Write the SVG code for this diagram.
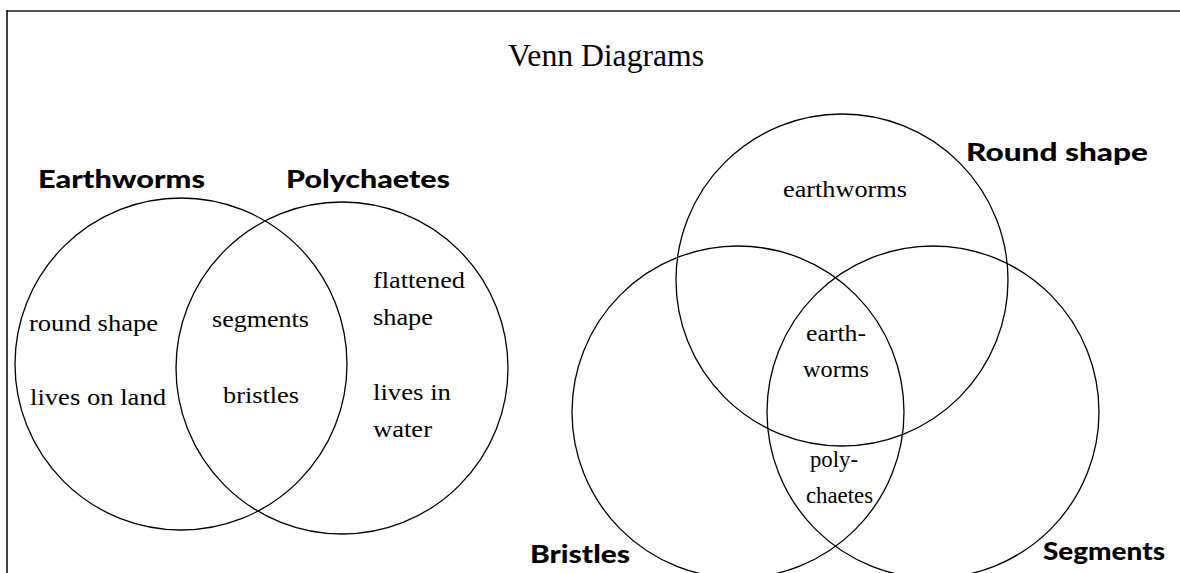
<svg xmlns="http://www.w3.org/2000/svg" width="1180" height="573" viewBox="0 0 1180 573">
<style>
.c{fill:none;stroke:#000;stroke-width:1.3}
.s{font-family:"Liberation Serif","Times New Roman",serif;font-size:24px;fill:#000}
.b{font-family:Lato,"DejaVu Sans",sans-serif;font-weight:900;font-size:25px;fill:#000}
</style>
<rect width="1180" height="573" fill="#fff"/>
<g id="frame">
<line x1="7" y1="11" x2="1180" y2="11" stroke="#555" stroke-width="2"/>
<line x1="7" y1="10" x2="7" y2="573" stroke="#000" stroke-width="1.5"/>
</g>
<text id="title" x="508" y="66" class="s" style="font-size:32px" textLength="196" lengthAdjust="spacingAndGlyphs">Venn Diagrams</text>
<g id="connectors"></g>
<g id="earthworms-set">
<circle class="c" cx="181" cy="364" r="166"/>
<text class="b" x="38" y="188" textLength="167" lengthAdjust="spacingAndGlyphs">Earthworms</text>
<text class="s" x="29" y="331" textLength="129" lengthAdjust="spacingAndGlyphs">round shape</text>
<text class="s" x="30" y="405" textLength="136" lengthAdjust="spacingAndGlyphs">lives on land</text>
</g>
<g id="polychaetes-set">
<circle class="c" cx="342" cy="368" r="166"/>
<text class="b" x="286" y="188" textLength="164" lengthAdjust="spacingAndGlyphs">Polychaetes</text>
<text class="s" x="373" y="288" textLength="92" lengthAdjust="spacingAndGlyphs">flattened</text>
<text class="s" x="373" y="325" textLength="60" lengthAdjust="spacingAndGlyphs">shape</text>
<text class="s" x="373" y="400" textLength="78" lengthAdjust="spacingAndGlyphs">lives in</text>
<text class="s" x="373" y="437" textLength="59" lengthAdjust="spacingAndGlyphs">water</text>
</g>
<g id="shared-left">
<text class="s" x="212" y="327" textLength="97" lengthAdjust="spacingAndGlyphs">segments</text>
<text class="s" x="223" y="403" textLength="76" lengthAdjust="spacingAndGlyphs">bristles</text>
</g>
<g id="round-shape-set">
<circle class="c" cx="842" cy="280" r="166"/>
<text class="b" x="966" y="161" textLength="182" lengthAdjust="spacingAndGlyphs">Round shape</text>
<text class="s" x="783" y="197" textLength="124" lengthAdjust="spacingAndGlyphs">earthworms</text>
</g>
<g id="bristles-set">
<circle class="c" cx="738" cy="412" r="166"/>
<text class="b" x="530" y="563" textLength="100" lengthAdjust="spacingAndGlyphs">Bristles</text>
</g>
<g id="segments-set">
<circle class="c" cx="933" cy="412" r="166"/>
<text class="b" x="1043" y="560" textLength="122" lengthAdjust="spacingAndGlyphs">Segments</text>
</g>
<g id="center-region">
<text class="s" x="806" y="341" textLength="60" lengthAdjust="spacingAndGlyphs">earth-</text>
<text class="s" x="803" y="377" textLength="66" lengthAdjust="spacingAndGlyphs">worms</text>
<text class="s" x="810" y="467" textLength="48" lengthAdjust="spacingAndGlyphs">poly-</text>
<text class="s" x="806" y="503" textLength="67" lengthAdjust="spacingAndGlyphs">chaetes</text>
</g>
</svg>
